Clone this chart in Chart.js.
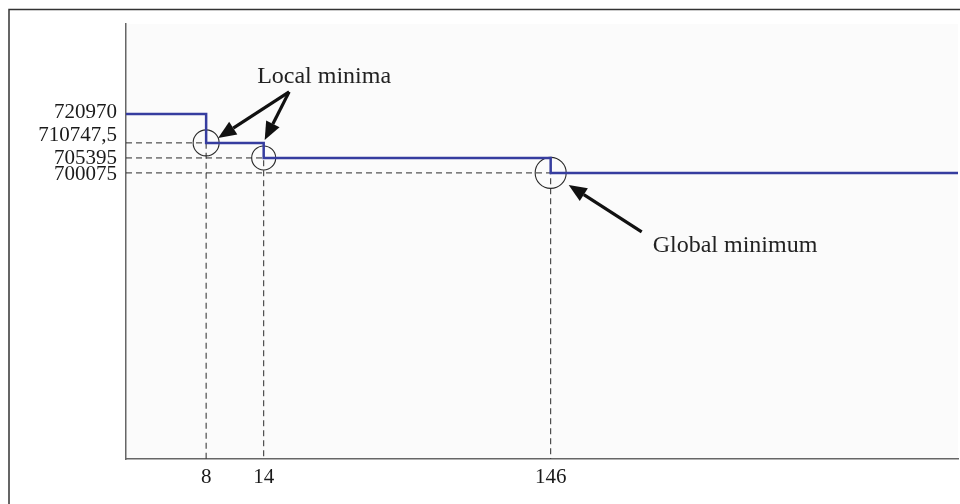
<!DOCTYPE html>
<html>
<head>
<meta charset="utf-8">
<script src="https://cdn.jsdelivr.net/npm/chart.js@4/dist/chart.umd.min.js"></script>
<style>
  html, body { margin: 0; padding: 0; background: #fff; }
  canvas { display: block; }
</style>
</head>
<body>
<canvas id="chart" width="960" height="504"></canvas>
<script>
// best objective value found so far, by iteration
const iterations = [0, 8, 14, 146, 3300];
const bestCost = [720970, 710747.5, 705395, 700075, 700075];

// iterations where the search reached a minimum, and the value there
const minimaIter = [8, 14, 146];
const minimaCost = [710747.5, 705395, 700075];

const yTicks = [720970, 710747.5, 705395, 700075];
const xTicks = [8, 14, 146];

// the figure's x axis is squeezed, close to log(iteration + 3)
const X_SHIFT = 3;
const X_MIN = 6, X_MAX = 3245;
const Y_MIN = 598400, Y_MAX = 753000;

// the y labels sit slightly apart in the figure so they don't collide
const yLabelNudge = [-2, -7, 1, 2];

const serif = "'Liberation Serif', 'Times New Roman', serif";
const tickFont = { family: serif, size: 21 };

const lineData = iterations.map((it, i) => ({ x: it + X_SHIFT, y: bestCost[i] }));
const minimaData = minimaIter.map((it, i) => ({ x: it + X_SHIFT, y: minimaCost[i] }));

// dashed guides: from the y axis across to each minimum, then down to the x axis
const guideSets = minimaIter.map((it, i) => ({
  data: [
    { x: X_MIN, y: minimaCost[i] },
    { x: it + X_SHIFT, y: minimaCost[i] },
    { x: it + X_SHIFT, y: Y_MIN }
  ],
  borderColor: "#2a2a2a",
  borderWidth: 1,
  borderDash: [6, 4],
  pointRadius: 0,
  fill: false
}));

function arrow(ctx, from, to) {
  const ang = Math.atan2(to.y - from.y, to.x - from.x);
  const headLen = 18, headHalf = 7.5;
  const bx = to.x - headLen * Math.cos(ang);
  const by = to.y - headLen * Math.sin(ang);
  ctx.strokeStyle = "#111";
  ctx.fillStyle = "#111";
  ctx.lineWidth = 3.2;
  ctx.beginPath();
  ctx.moveTo(from.x, from.y);
  ctx.lineTo(bx, by);
  ctx.stroke();
  ctx.beginPath();
  ctx.moveTo(to.x, to.y);
  ctx.lineTo(bx + headHalf * Math.sin(ang), by - headHalf * Math.cos(ang));
  ctx.lineTo(bx - headHalf * Math.sin(ang), by + headHalf * Math.cos(ang));
  ctx.closePath();
  ctx.fill();
}

const backdrop = {
  id: "backdrop",
  beforeDraw(chart) {
    const { ctx, chartArea: a } = chart;
    ctx.save();
    ctx.fillStyle = "#fff";
    ctx.fillRect(0, 0, chart.width, chart.height);
    ctx.fillStyle = "#fbfbfb";
    ctx.fillRect(a.left, a.top, a.right - a.left, a.bottom - a.top);
    ctx.strokeStyle = "#333";
    ctx.lineWidth = 1.5;
    ctx.strokeRect(9, 9.5, chart.width + 20, chart.height + 20);
    ctx.restore();

    // spread the crowded y labels a little
    const y = chart.scales.y;
    if (y.getLabelItems) {
      y.getLabelItems().forEach((item, i) => {
        if (item.options && item.options.translation && !item._nudged) {
          item.options.translation[1] += yLabelNudge[i] || 0;
          item._nudged = true;
        }
      });
    }
  }
};

const notes = {
  id: "notes",
  afterDatasetsDraw(chart) {
    const { ctx, scales: { x, y } } = chart;
    const p = minimaData.map(d => ({ x: x.getPixelForValue(d.x), y: y.getPixelForValue(d.y) }));
    ctx.save();
    ctx.font = "24px " + serif;
    ctx.fillStyle = "#222";
    ctx.textBaseline = "alphabetic";

    ctx.fillText("Local minima", p[0].x + 51, p[0].y - 60);
    const tail = { x: p[0].x + 83, y: p[0].y - 51 };
    arrow(ctx, tail, { x: p[0].x + 12, y: p[0].y - 5 });
    arrow(ctx, tail, { x: p[1].x + 1, y: p[1].y - 18 });

    ctx.fillStyle = "#222";
    ctx.fillText("Global minimum", p[2].x + 102, p[2].y + 79);
    arrow(ctx, { x: p[2].x + 91, y: p[2].y + 59 }, { x: p[2].x + 18, y: p[2].y + 12 });
    ctx.restore();
  }
};

new Chart(document.getElementById("chart"), {
  type: "line",
  data: {
    datasets: [
      {
        data: lineData,
        borderColor: "#363d9f",
        borderWidth: 2.5,
        stepped: "before",
        pointRadius: 0,
        fill: false
      },
      {
        data: minimaData,
        showLine: false,
        pointStyle: "circle",
        pointRadius: [13, 12, 15.5],
        pointBorderColor: "#2a2a2a",
        pointBorderWidth: 1.1,
        pointBackgroundColor: "rgba(0,0,0,0)"
      },
      ...guideSets
    ]
  },
  options: {
    responsive: false,
    animation: false,
    layout: { autoPadding: false, padding: { top: 24, right: 2, left: 0, bottom: 0 } },
    plugins: { legend: { display: false }, tooltip: { enabled: false } },
    scales: {
      x: {
        type: "logarithmic",
        min: X_MIN,
        max: X_MAX,
        afterBuildTicks: s => { s.ticks = xTicks.map(v => ({ value: v + X_SHIFT })); },
        afterFit: s => { s.height = 45; s.paddingLeft = 0; s.paddingRight = 0; },
        grid: { display: false, drawTicks: false },
        border: { display: true, color: "#666", width: 1.5 },
        ticks: {
          autoSkip: false, maxRotation: 0, minRotation: 0, padding: 6,
          font: tickFont, color: "#1a1a1a",
          callback: v => String(v - X_SHIFT)
        }
      },
      y: {
        type: "linear",
        min: Y_MIN,
        max: Y_MAX,
        afterBuildTicks: s => { s.ticks = yTicks.map(v => ({ value: v })); },
        afterFit: s => { s.width = 126; s.paddingTop = 0; s.paddingBottom = 0; },
        grid: { display: false, drawTicks: false },
        border: { display: true, color: "#666", width: 1.5 },
        ticks: {
          autoSkip: false, padding: 9,
          font: tickFont, color: "#1a1a1a",
          callback: v => String(v).replace(".", ",")
        }
      }
    }
  },
  plugins: [backdrop, notes]
});
</script>
</body>
</html>
